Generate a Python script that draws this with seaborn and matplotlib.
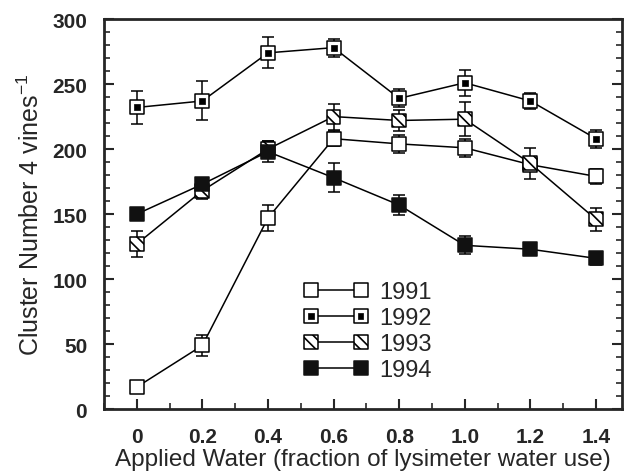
import numpy as np
import pandas as pd
import matplotlib
matplotlib.use("Agg")
import matplotlib.pyplot as plt
import seaborn as sns
from matplotlib.lines import Line2D
from matplotlib.ticker import MultipleLocator
from matplotlib.legend_handler import HandlerTuple

# data
water = [0, 0.2, 0.4, 0.6, 0.8, 1.0, 1.2, 1.4]
y1991 = [17, 49, 147, 208, 204, 201, 188, 179]
e1991 = [0, 8, 10, 6, 7, 7, 0, 6]
y1992 = [232, 237, 274, 278, 239, 251, 237, 208]
e1992 = [13, 15, 12, 7, 7, 10, 6, 7]
y1993 = [127, 168, 200, 225, 222, 223, 189, 146]
e1993 = [10, 6, 6, 10, 8, 13, 12, 9]
y1994 = [150, 173, 198, 178, 157, 126, 123, 116]
e1994 = [0, 0, 8, 11, 8, 7, 0, 5]

years = ["1991", "1992", "1993", "1994"]
vals = [y1991, y1992, y1993, y1994]
errs = [e1991, e1992, e1993, e1994]

df = pd.DataFrame({
    "water": water * 4,
    "clusters": sum(vals, []),
    "err": sum(errs, []),
    "year": [y for y in years for _ in water],
})

sns.set_style("ticks")
plt.rcParams["font.family"] = ["Liberation Sans", "DejaVu Sans"]
plt.rcParams["mathtext.default"] = "regular"
plt.rcParams["hatch.linewidth"] = 1.2

fig = plt.figure(figsize=(6.26, 4.77), dpi=100)
ax = fig.add_axes([0.166, 0.140, 0.828, 0.818])

# lines
sns.lineplot(data=df, x="water", y="clusters", units="year", estimator=None,
             color="black", lw=1.1, ax=ax, legend=False, zorder=2)

ms = 10  # marker size in points
handles = []
for yr in years:
    d = df[df.year == yr]
    ax.errorbar(d.water, d.clusters, yerr=d.err, fmt="none", ecolor="black",
                elinewidth=1.1, capsize=4, capthick=1.1, zorder=3)
    if yr == "1991":
        m = ax.scatter(d.water, d.clusters, marker="s", s=ms**2, facecolor="white",
                       edgecolor="black", linewidth=1.1, zorder=4)
        h = (m,)
    elif yr == "1992":
        m = ax.scatter(d.water, d.clusters, marker="s", s=ms**2, facecolor="white",
                       edgecolor="black", linewidth=1.1, zorder=4)
        m2 = ax.scatter(d.water, d.clusters, marker="s", s=4**2, facecolor="black",
                        edgecolor="black", linewidth=0.5, zorder=5)
        h = (m, m2)
    elif yr == "1993":
        m = ax.scatter(d.water, d.clusters, marker="s", s=ms**2, facecolor="white",
                       edgecolor="black", hatch="\\\\\\", linewidth=1.1, zorder=4)
        h = (m,)
    else:
        m = ax.scatter(d.water, d.clusters, marker="s", s=ms**2, facecolor="#111111",
                       edgecolor="#111111", linewidth=1.1, zorder=4)
        h = (m,)
    line = Line2D([], [], color="black", lw=1.1)
    handles.append((line,) + h)

leg = ax.legend(handles, years, loc="upper left", bbox_to_anchor=(0.345, 0.383),
                frameon=False, fontsize=17, scatterpoints=2, numpoints=2,
                scatteryoffsets=[0.5], handlelength=2.7, handletextpad=0.5,
                labelspacing=0.17,
                handler_map={tuple: HandlerTuple(ndivide=1, pad=0)})

ax.set_xlim(-0.1, 1.48)
ax.set_ylim(0, 300)
ax.set_xticks(water)
ax.set_xticklabels(["0", "0.2", "0.4", "0.6", "0.8", "1.0", "1.2", "1.4"])
ax.xaxis.set_minor_locator(MultipleLocator(0.1))
ax.yaxis.set_major_locator(MultipleLocator(50))
ax.yaxis.set_minor_locator(MultipleLocator(10))
ax.tick_params(axis="both", which="major", direction="in", length=7, width=1.5,
               labelsize=15)
ax.tick_params(axis="both", which="minor", direction="in", length=4, width=1.2)
ax.tick_params(axis="x", which="major", pad=13)
ax.tick_params(axis="y", which="major", pad=12)
ax.tick_params(axis="y", which="both", right=True)
for lab in ax.get_xticklabels() + ax.get_yticklabels():
    lab.set_fontweight("bold")
for sp in ax.spines.values():
    sp.set_linewidth(2)
    sp.set_visible(True)

ax.set_xlabel("Applied Water (fraction of lysimeter water use)", fontsize=17.5, labelpad=1)
ax.set_ylabel("Cluster Number 4 vines$^{-1}$", fontsize=18, labelpad=6)

plt.savefig("out.png", dpi=100)
plt.close()
